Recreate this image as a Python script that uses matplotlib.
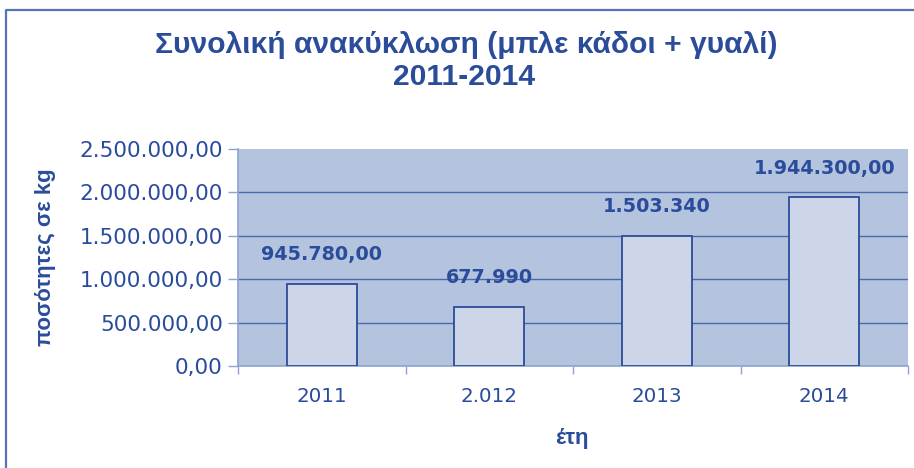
from matplotlib import pyplot as plt
from matplotlib import lines as ml
from matplotlib.ticker import FuncFormatter

# values
years = ['2011', '2.012', '2013', '2014']
totals = [945780, 677990, 1503340, 1944300]
bar_texts = ['945.780,00', '677.990', '1.503.340', '1.944.300,00']
y_ticks = [0, 500000, 1000000, 1500000, 2000000, 2500000]

BLUE = '#2B4C9B'
BG = '#B4C3DE'
BAR = '#CDD6E8'
GRID = '#4A69AE'
AXIS = '#8EA3CC'


def greek(v, pos=None):
    # 2500000 -> 2.500.000,00
    s = '{:,.2f}'.format(v)
    return s.replace(',', 'X').replace('.', ',').replace('X', '.')


fig = plt.figure(figsize=(9.14, 4.68), dpi=100)
fig.patch.set_facecolor('white')

# outer frame of the chart (only left and top edges show)
fx, fy = 5.5 / 914, 1 - 10 / 468
fig.lines.append(ml.Line2D([fx, fx, 1.0], [0.0, fy, fy], transform=fig.transFigure,
                           color='#5575B8', linewidth=1.6))

ax = fig.add_axes([238 / 914, 102 / 468, 670 / 914, 217 / 468])
ax.set_facecolor(BG)

x = range(len(years))
bars = ax.bar(x, totals, width=0.42, color=BAR, edgecolor=BLUE, linewidth=1.3, zorder=3)
for b, t in zip(bars, bar_texts):
    ax.annotate(t, (b.get_x() + b.get_width() / 2, b.get_height()),
                xytext=(0, 21), textcoords='offset points', ha='center', va='center',
                fontsize=13.8, fontweight='bold', color=BLUE, family='DejaVu Sans')

ax.set_xlim(-0.5, 3.5)
ax.set_ylim(0, 2500000)
ax.set_yticks(y_ticks)
ax.yaxis.set_major_formatter(FuncFormatter(greek))
for yv in y_ticks[1:-1]:
    ax.axhline(yv, color=GRID, linewidth=1.0, zorder=1)

ax.set_xticks(list(x))
ax.set_xticklabels(years)
ax.set_xticks([-0.5, 0.5, 1.5, 2.5, 3.5], minor=True)
ax.tick_params(axis='x', which='major', length=0, pad=15, labelsize=14.3, labelcolor=BLUE)
ax.tick_params(axis='x', which='minor', length=6, color=AXIS, width=1)
ax.tick_params(axis='y', length=7, color=AXIS, width=1, pad=4, labelsize=15.5, labelcolor=BLUE)

for s in ['top', 'right']:
    ax.spines[s].set_visible(False)
for s in ['left', 'bottom']:
    ax.spines[s].set_color(AXIS)
    ax.spines[s].set_linewidth(1.2)

ax.set_ylabel('ποσότητες σε kg', fontsize=16, fontweight='bold', color=BLUE,
              family='Liberation Sans')
ax.yaxis.set_label_coords(-182 / 670, 0.5)
ax.set_xlabel('έτη', fontsize=16, fontweight='bold', color=BLUE, family='Liberation Sans')
ax.xaxis.set_label_coords((572 - 238) / 670, -62 / 217)

fig.text(466 / 914, 1 - 45 / 468, 'Συνολική ανακύκλωση (μπλε κάδοι + γυαλί)', ha='center', va='center',
         fontsize=21.6, fontweight='bold', color=BLUE, family='Liberation Sans')
fig.text(464 / 914, 1 - 77 / 468, '2011-2014', ha='center', va='center',
         fontsize=21.6, fontweight='bold', color=BLUE, family='Liberation Sans')

plt.savefig('out.png', dpi=100)
